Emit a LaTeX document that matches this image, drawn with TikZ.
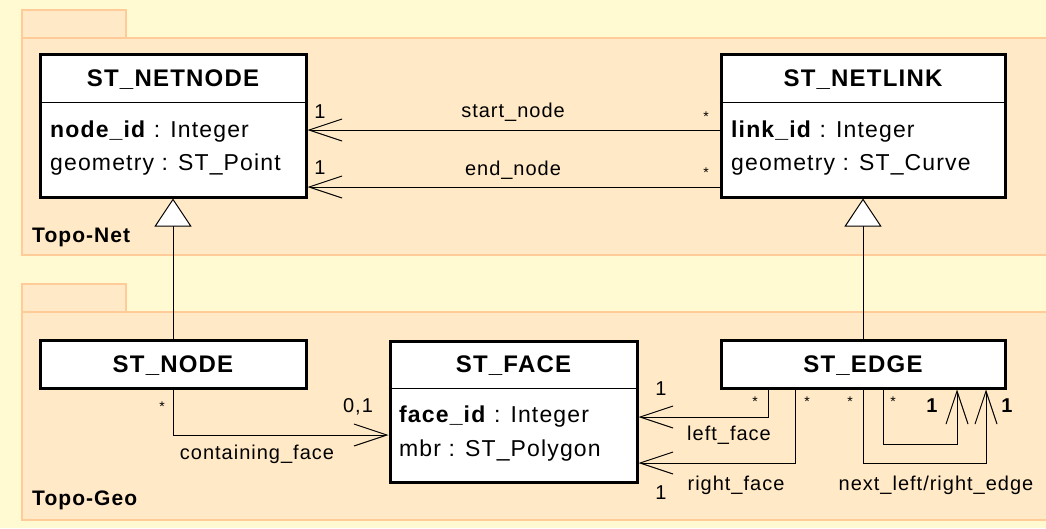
\documentclass[tikz,border=0pt]{standalone}
\usepackage{fontspec}
\setmainfont{Liberation Sans}[LetterSpace=5]
\usetikzlibrary{arrows.meta}
\definecolor{canvas}{HTML}{FFFAD2}
\definecolor{pkgfill}{HTML}{FFE9C6}
\definecolor{pkgline}{HTML}{FFCC99}
\tikzset{
  classbox/.style={draw=black, line width=3pt, fill=white, inner sep=0pt},
  divider/.style={line width=1pt},
  title/.style={font=\fontsize{24}{28}\selectfont\bfseries, anchor=base, inner sep=0pt},
  attr/.style={font=\fontsize{23}{27}\selectfont, anchor=base west, inner sep=0pt},
  lbl/.style={font=\fontsize{20}{24}\selectfont, anchor=base, inner sep=0pt},
  boldlbl/.style={font=\fontsize{20}{24}\selectfont\bfseries, anchor=base, inner sep=0pt},
  star/.style={font=\fontsize{14}{16}\selectfont, inner sep=0pt},
  pkglabel/.style={font=\fontsize{21}{25}\selectfont\bfseries, anchor=base west, inner sep=0pt},
  assoc/.style={line width=1pt, -{Straight Barb[length=33pt,width=22pt]}},
  gen/.style={line width=1pt, -{Triangle[open,length=28pt,width=37pt,fill=white]}},
  pkg/.style={draw=pkgline, fill=pkgfill, line width=1.5pt},
}
\begin{document}
\begin{tikzpicture}[x=1pt, y=-1pt]
\useasboundingbox (0,0) rectangle (1046,528);
\fill[canvas] (0,0) rectangle (1046,528);

% packages
\draw[pkg] (22,10) rectangle (126,38);
\draw[pkg] (22,38) rectangle (1052,255);
\draw[pkg] (22,284) rectangle (126,312);
\draw[pkg] (22,312) rectangle (1052,520);
\node[pkglabel] (lblnet) at (32,242) {Topo-Net};
\node[pkglabel] (lblgeo) at (32,505) {Topo-Geo};

% classes
\node[classbox, minimum width=266pt, minimum height=143pt] (netnode) at (173,125.5) {};
\draw[divider] (netnode.west |- 0,102) -- (netnode.east |- 0,102);
\node[title] (netnodet) at (173,86) {ST\_NETNODE};
\node[attr] (netnodea) at (50,137) {\textbf{node\_id} : Integer};
\node[attr] (netnodeb) at (50,170) {geometry : ST\_Point};

\node[classbox, minimum width=284pt, minimum height=143pt] (netlink) at (863,125.5) {};
\draw[divider] (netlink.west |- 0,102) -- (netlink.east |- 0,102);
\node[title] (netlinkt) at (863,86) {ST\_NETLINK};
\node[attr] (netlinka) at (731,137) {\textbf{link\_id} : Integer};
\node[attr] (netlinkb) at (731,170) {geometry : ST\_Curve};

\node[classbox, minimum width=266pt, minimum height=48pt] (stnode) at (173,364) {};
\node[title] (stnodet) at (173,372) {ST\_NODE};

\node[classbox, minimum width=247pt, minimum height=141pt] (face) at (513.5,411.5) {};
\draw[divider] (face.west |- 0,388) -- (face.east |- 0,388);
\node[title] (facet) at (513.5,372) {ST\_FACE};
\node[attr] (facea) at (399,422) {\textbf{face\_id} : Integer};
\node[attr] (faceb) at (399,456) {mbr : ST\_Polygon};

\node[classbox, minimum width=284pt, minimum height=48pt] (edge) at (863,364) {};
\node[title] (edget) at (863,372) {ST\_EDGE};

% generalisations
\draw[gen] (stnode.north) -- (netnode.south);
\draw[gen] (edge.north) -- (netlink.south);

% associations between the net classes
\draw[assoc] (netlink.west |- 0,130) -- (netnode.east |- 0,130);
\draw[assoc] (netlink.west |- 0,187) -- (netnode.east |- 0,187);
\node[lbl] (startlbl) at (513,117) {start\_node};
\node[lbl] (endlbl) at (513,175) {end\_node};
\node[lbl] (m1) at (320,118) {1};
\node[lbl] (m2) at (320,174) {1};
\node[star] (s1) at (706,117) {*};
\node[star] (s2) at (706,173) {*};

% containing face
\draw[assoc] (stnode.south) |- (face.west |- 0,435);
\node[star] (s3) at (162,407) {*};
\node[lbl] (m3) at (358,412) {0,1};
\node[lbl] (contlbl) at (257,459) {containing\_face};

% left and right face
\draw[assoc] (768,0 |- edge.south) |- (face.east |- 0,417);
\draw[assoc] (795,0 |- edge.south) |- (face.east |- 0,463);
\node[lbl] (m4) at (661,395) {1};
\node[lbl] (m5) at (661,499) {1};
\node[star] (s4) at (755,402) {*};
\node[star] (s5) at (807,402) {*};
\node[lbl] (leftlbl) at (729,440) {left\_face};
\node[lbl] (rightlbl) at (736,490) {right\_face};

% next left / right edge self associations
\draw[assoc] (883,0 |- edge.south) -- (883,444) -- (957,444) -- (957,0 |- edge.south);
\draw[assoc] (863,0 |- edge.south) -- (863,463) -- (986,463) -- (986,0 |- edge.south);
\node[star] (s6) at (850,402) {*};
\node[star] (s7) at (893,402) {*};
\node[boldlbl] (m6) at (932,412) {1};
\node[boldlbl] (m7) at (1007,412) {1};
\node[lbl] (nextlbl) at (936,490) {next\_left/right\_edge};
\end{tikzpicture}
\end{document}
